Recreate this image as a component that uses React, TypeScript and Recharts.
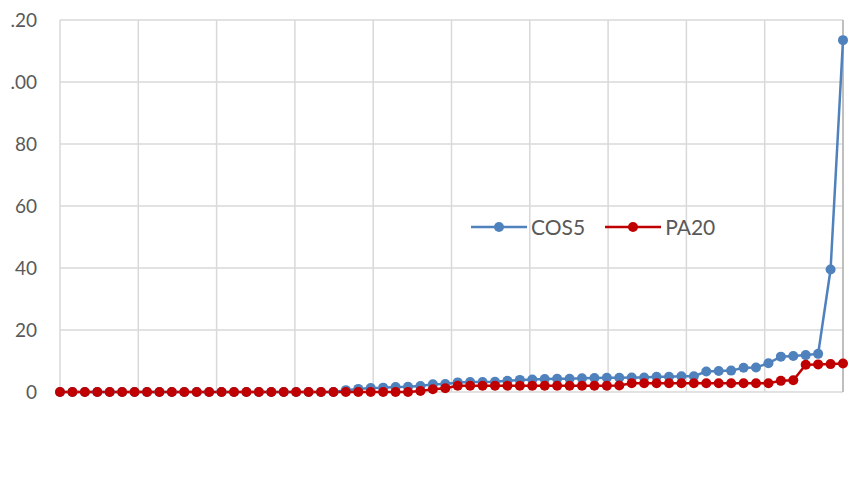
import {
  CartesianGrid,
  Legend,
  Line,
  LineChart,
  ReferenceLine,
  XAxis,
  YAxis,
} from 'recharts'

// 64 sorted observations, x = rank position
const ranks = Array.from({ length: 64 }, (_, i) => i)

const cos5 = [
  0, 0, 0, 0, 0, 0, 0, 0, 0, 0, 0, 0, 0, 0, 0, 0, 0, 0, 0, 0, 0, 0, 0,
  0.6, 1.0, 1.3, 1.4, 1.6, 1.7, 1.9, 2.5, 2.6, 3.1, 3.2, 3.2, 3.3, 3.6, 3.9,
  4.0, 4.2, 4.3, 4.3, 4.4, 4.5, 4.6, 4.6, 4.7, 4.7, 4.9, 4.9, 5.1, 5.1, 6.6,
  6.8, 6.9, 7.8, 7.9, 9.3, 11.4, 11.6, 11.9, 12.3, 39.5, 113.5,
]

const pa20 = [
  0, 0, 0, 0, 0, 0, 0, 0, 0, 0, 0, 0, 0, 0, 0, 0, 0, 0, 0, 0, 0, 0, 0, 0, 0,
  0, 0, 0, 0, 0.3, 0.9, 1.2, 2.0, 2.0, 2.0, 2.0, 2.0, 2.0, 2.0, 2.0, 2.0, 2.0,
  2.0, 2.0, 2.0, 2.1, 2.8, 2.8, 2.8, 2.8, 2.8, 2.8, 2.8, 2.8, 2.8, 2.8, 2.8,
  2.8, 3.6, 3.8, 8.8, 8.9, 9.0, 9.2,
]

const yTicks = [0, 20, 40, 60, 80, 100, 120]
const yTickLabels = ['0', '20', '40', '60', '80', '.00', '.20']
const xGridTicks = [0, 6.3, 12.6, 18.9, 25.2, 31.5, 37.8, 44.1, 50.4, 56.7, 63]

const seriesNames = ['COS5', 'PA20']
const seriesColors = ['#4f81bd', '#c00000']

const chartData = ranks.map((rank, i) => ({
  rank,
  COS5: cos5[i],
  PA20: pa20[i],
}))

const font = 'Lato, "Open Sans", sans-serif'

function LegendContent() {
  return (
    <div style={{ display: 'flex', alignItems: 'center', fontFamily: font }}>
      {seriesNames.map((name, i) => (
        <div key={name} style={{ display: 'flex', alignItems: 'center', marginRight: 20 }}>
          <svg width={56} height={12}>
            <line x1={0} y1={6} x2={56} y2={6} stroke={seriesColors[i]} strokeWidth={2.5} />
            <circle cx={28} cy={6} r={5} fill={seriesColors[i]} />
          </svg>
          <span style={{ marginLeft: 4, fontSize: 21, color: '#595959' }}>{name}</span>
        </div>
      ))}
    </div>
  )
}

export default function App() {
  return (
    <div style={{ width: 857, height: 480, background: '#fff' }}>
      <style>{'body{margin:0}'}</style>
      <LineChart
        width={857}
        height={480}
        data={chartData}
        margin={{ top: 20, right: 14, left: 0, bottom: 88 }}
      >
        <CartesianGrid stroke="#d9d9d9" strokeWidth={1.5} />
        <XAxis
          dataKey="rank"
          type="number"
          domain={[0, 63]}
          ticks={xGridTicks}
          tickFormatter={() => ''}
          tickLine={false}
          height={0}
          axisLine={{ stroke: '#bfbfbf', strokeWidth: 2 }}
        />
        <YAxis
          domain={[0, 120]}
          ticks={yTicks}
          width={60}
          axisLine={false}
          tickLine={false}
          tickSize={0}
          tickMargin={23}
          tickFormatter={(value) => yTickLabels[yTicks.indexOf(Number(value))] ?? ''}
          tick={{ fill: '#595959', fontSize: 19, fontFamily: font }}
        />
        <ReferenceLine x={63} stroke="#bfbfbf" strokeWidth={2} />
        <Legend
          content={<LegendContent />}
          verticalAlign="middle"
          wrapperStyle={{ left: 471, top: 214, width: 300 }}
        />
        {seriesNames.map((name, i) => (
          <Line
            key={name}
            dataKey={name}
            stroke={seriesColors[i]}
            strokeWidth={2.5}
            dot={{ r: 5, fill: seriesColors[i], stroke: seriesColors[i], strokeWidth: 0 }}
            activeDot={false}
            isAnimationActive={false}
          />
        ))}
      </LineChart>
    </div>
  )
}
